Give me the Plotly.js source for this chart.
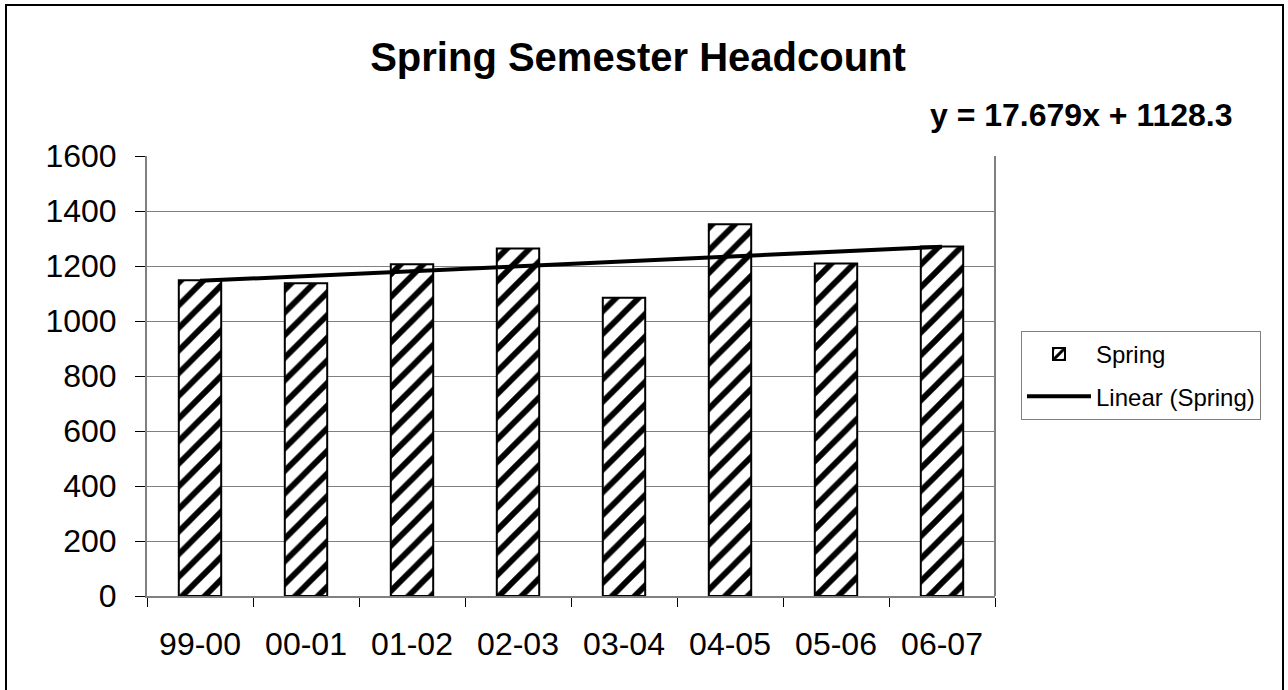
<!DOCTYPE html>
<html>
<head>
<meta charset="utf-8">
<script src="https://cdn.plot.ly/plotly-3.0.1.min.js"></script>
<style>
html,body{margin:0;padding:0;background:#fff;}
#chart{width:1288px;height:690px;}
</style>
</head>
<body>
<div id="chart"></div>
<script>
// Data
var categories = ["99-00", "00-01", "01-02", "02-03", "03-04", "04-05", "05-06", "06-07"];
var springValues = [1148, 1137, 1206, 1264, 1085, 1352, 1209, 1271];
// Trendline coefficients shown on the chart
var trendSlope = [17.679];
var trendIntercept = [1128.3];
var yTickVals = [0, 200, 400, 600, 800, 1000, 1200, 1400, 1600];

var trendValues = categories.map(function (c, i) {
  return trendSlope[0] * (i + 1) + trendIntercept[0];
});

var W = 1288, H = 690;
var L = 147, R = 995, T = 156, B = 596;
function px2x(p) { return (p - L) / (R - L); }
function px2y(p) { return (B - p) / (B - T); }

var font = "Liberation Sans, Arial, Helvetica, sans-serif";

var traces = [
  {
    type: "bar",
    name: "Spring",
    x: categories,
    y: springValues,
    width: 0.4,
    legendgroup: "a",
    marker: {
      color: "#ffffff",
      line: { color: "#000000", width: 2 },
      pattern: { shape: "/", fgcolor: "#000000", bgcolor: "#ffffff", size: 16, solidity: 0.36 }
    },
    hoverinfo: "x+y"
  },
  {
    type: "scatter",
    mode: "lines",
    name: "Linear (Spring)",
    x: categories,
    y: trendValues,
    legendgroup: "b",
    line: { color: "#000000", width: 4 },
    hoverinfo: "skip"
  }
];

var layout = {
  width: W,
  height: H,
  margin: { l: L, r: W - R, t: T, b: H - B, pad: 0 },
  paper_bgcolor: "#ffffff",
  plot_bgcolor: "#ffffff",
  font: { family: font, color: "#000000" },
  showlegend: true,
  bargap: 0.6,
  title: {
    text: "<b>Spring Semester Headcount</b>",
    font: { family: font, size: 40, color: "#000000" },
    x: 638 / W,
    xanchor: "center",
    xref: "container",
    y: 1 - 57 / H,
    yanchor: "middle",
    yref: "container"
  },
  xaxis: {
    type: "category",
    showgrid: false,
    showline: true,
    linecolor: "#808080",
    linewidth: 2,
    mirror: false,
    ticks: "outside",
    tickson: "boundaries",
    ticklen: 9,
    tickwidth: 1,
    tickcolor: "#000000",
    ticklabelstandoff: 19,
    tickfont: { family: font, size: 32, color: "#000000" },
    fixedrange: true,
    zeroline: false
  },
  yaxis: {
    range: [0, 1600],
    tickvals: yTickVals,
    showgrid: true,
    gridcolor: "#808080",
    gridwidth: 1,
    showline: true,
    linecolor: "#808080",
    linewidth: 2,
    ticks: "outside",
    ticklen: 10,
    tickwidth: 1,
    tickcolor: "#000000",
    ticklabelstandoff: 12,
    tickfont: { family: font, size: 32, color: "#000000" },
    zeroline: false,
    fixedrange: true
  },
  legend: {
    x: px2x(1021),
    y: px2y(331),
    xanchor: "left",
    yanchor: "top",
    bgcolor: "#ffffff",
    bordercolor: "#808080",
    borderwidth: 1,
    font: { family: font, size: 24, color: "#000000" },
    traceorder: "grouped",
    tracegroupgap: 8,
    itemwidth: 64
  },
  shapes: [
    // chart area border
    {
      type: "rect", xref: "paper", yref: "paper",
      x0: px2x(6), x1: px2x(1283), y0: px2y(5), y1: px2y(720),
      line: { color: "#000000", width: 2 }, fillcolor: "rgba(0,0,0,0)", layer: "below"
    },
    // plot area right border
    {
      type: "line", xref: "paper", yref: "paper",
      x0: 1, x1: 1, y0: 0, y1: 1,
      line: { color: "#808080", width: 2 }, layer: "below"
    }
  ],
  annotations: [
    {
      text: "<b>y = 17.679x + 1128.3</b>",
      xref: "paper", yref: "paper",
      x: px2x(1235), y: px2y(115),
      xanchor: "right", yanchor: "middle",
      showarrow: false,
      font: { family: font, size: 32, color: "#000000" }
    }
  ]
};

Plotly.newPlot("chart", traces, layout, { staticPlot: true, displayModeBar: false });
</script>
</body>
</html>
